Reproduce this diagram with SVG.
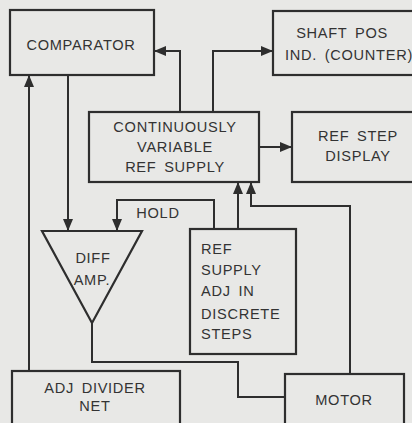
<svg xmlns="http://www.w3.org/2000/svg" width="412" height="423" viewBox="0 0 412 423">
<style>
.box{fill:none;stroke:#2e2e2e;stroke-width:2.2}
.ln{fill:none;stroke:#2e2e2e;stroke-width:2}
text{font-family:"Liberation Sans","DejaVu Sans",Arial,sans-serif;font-size:14.6px;letter-spacing:0.7px;word-spacing:3px;fill:#333;text-anchor:middle}
.l{text-anchor:start}
</style>
<defs>
<marker id="ah" viewBox="0 0 12 10" refX="12" refY="5" markerWidth="12" markerHeight="10" markerUnits="userSpaceOnUse" orient="auto">
<path d="M0,0 L12,5 L0,10 Z" fill="#2e2e2e"/>
</marker>
</defs>
<rect width="412" height="423" fill="#e8e8e6"/>
<g id="comparator"><rect class="box" x="10" y="10" width="144" height="65"/><text x="81" y="50">COMPARATOR</text></g>
<g id="shaft"><rect class="box" x="273" y="11" width="150" height="64"/><text x="342" y="38">SHAFT POS</text><text x="349" y="60">IND. (COUNTER)</text></g>
<g id="refsupply"><rect class="box" x="89" y="112" width="170" height="70"/><text x="175" y="132">CONTINUOUSLY</text><text x="175" y="152">VARIABLE</text><text x="175" y="172">REF SUPPLY</text></g>
<g id="refstep"><rect class="box" x="292" y="112" width="130" height="70"/><text x="358" y="141">REF STEP</text><text x="358" y="161">DISPLAY</text></g>
<g id="diffamp"><path class="box" d="M42,231 L142,231 L92,323 Z"/><text x="93" y="263">DIFF</text><text x="92" y="285">AMP.</text></g>
<g id="adjsteps"><rect class="box" x="190" y="229" width="106" height="125"/><text class="l" x="201" y="254">REF</text><text class="l" x="201" y="275">SUPPLY</text><text class="l" x="201" y="296">ADJ IN</text><text class="l" x="201" y="319">DISCRETE</text><text class="l" x="201" y="339">STEPS</text></g>
<g id="divider"><rect class="box" x="12" y="371" width="168" height="70"/><text x="95" y="393">ADJ DIVIDER</text><text x="95" y="411">NET</text></g>
<g id="motor"><rect class="box" x="285" y="374" width="119" height="70"/><text x="344" y="405">MOTOR</text></g>
<text x="158" y="218">HOLD</text>
<g id="connectors">
<path class="ln" d="M180,112 V51 H154" marker-end="url(#ah)"/>
<path class="ln" d="M213,112 V51 H273" marker-end="url(#ah)"/>
<path class="ln" d="M259,147 H292" marker-end="url(#ah)"/>
<path class="ln" d="M68,75 V231" marker-end="url(#ah)"/>
<path class="ln" d="M29,371 V75" marker-end="url(#ah)"/>
<path class="ln" d="M214,229 V200 H117 V231" marker-end="url(#ah)"/>
<path class="ln" d="M238,229 V182" marker-end="url(#ah)"/>
<path class="ln" d="M350,374 V206 H251 V182" marker-end="url(#ah)"/>
<path class="ln" d="M92,323 V362 H238 V397 H285"/>
</g>
</svg>
